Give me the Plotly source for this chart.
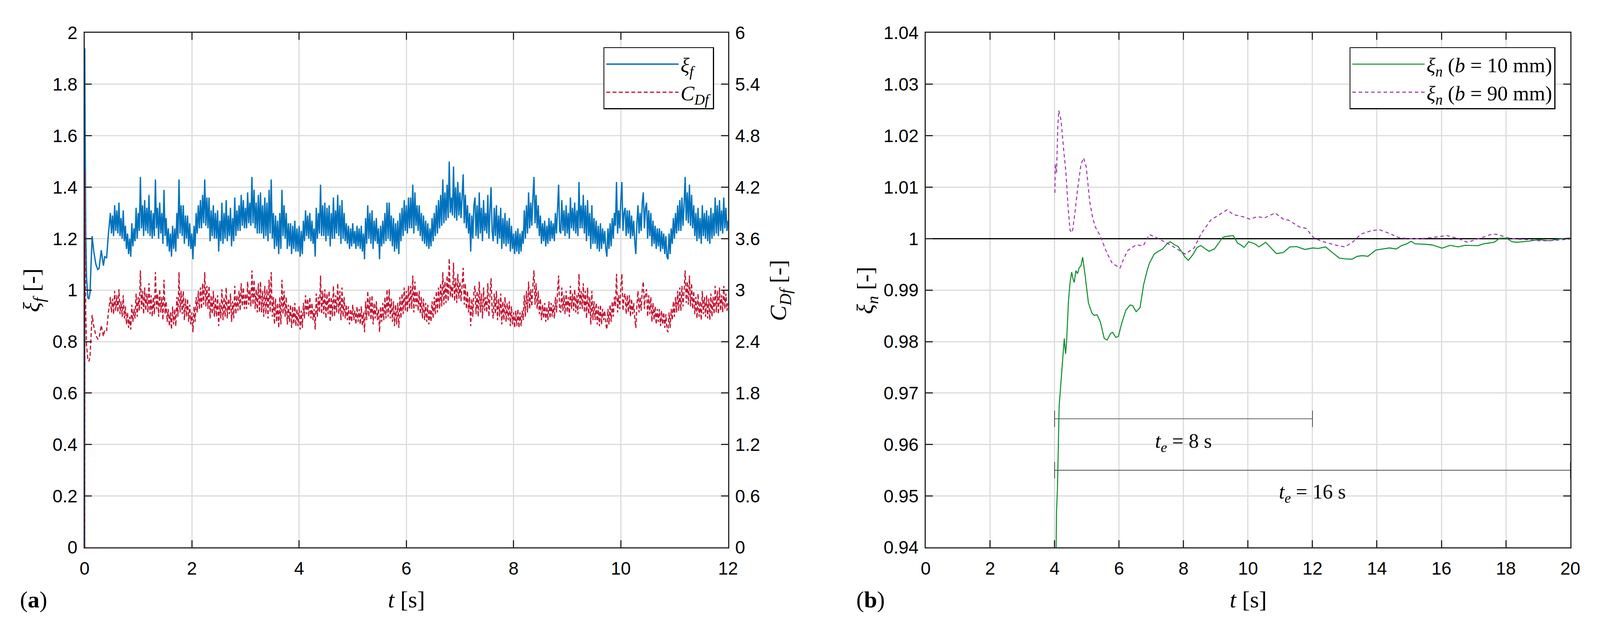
import numpy as np
import plotly.graph_objects as go

SANS = "Liberation Sans"
SERIF = "Liberation Serif"
AX = "#262626"
GRID = "#dcdcdc"

# ---- (a) xi_f and C_Df vs time ----
# start-up transient
t_start = [0, 0.003, 0.008, 0.02, 0.035, 0.06, 0.08, 0.10, 0.12, 0.14,
           0.17, 0.21, 0.245, 0.27, 0.31, 0.35, 0.375, 0.41, 0.44]
xi_start = [0, 1.94, 1.70, 1.23, 1.05, 0.97, 0.965, 0.99, 1.10, 1.21,
            1.15, 1.10, 1.08, 1.085, 1.155, 1.095, 1.13, 1.125, 1.21]
cdf_start = [0, 4.40, 3.80, 2.76, 2.36, 2.19, 2.17, 2.22, 2.47, 2.71,
             2.58, 2.47, 2.43, 2.44, 2.59, 2.46, 2.54, 2.53, 2.72]

# fluctuating part, read every 0.02 s from 0.48 s to 12 s (one row = 0.4 s)
t_band = np.round(np.arange(0.48, 12.0001, 0.02), 2)
xi_band = [
    1.30, 1.22, 1.29, 1.21, 1.33, 1.23, 1.31, 1.22, 1.34, 1.21, 1.28, 1.20, 1.31, 1.19, 1.25, 1.16, 1.22, 1.14, 1.20, 1.13,
    1.26, 1.17, 1.24, 1.19, 1.32, 1.20, 1.30, 1.23, 1.44, 1.24, 1.33, 1.21, 1.35, 1.23, 1.32, 1.22, 1.37, 1.21, 1.31, 1.20,
    1.30, 1.21, 1.43, 1.24, 1.32, 1.20, 1.34, 1.22, 1.30, 1.18, 1.39, 1.21, 1.28, 1.17, 1.24, 1.15, 1.22, 1.13, 1.25, 1.16,
    1.24, 1.15, 1.30, 1.20, 1.43, 1.22, 1.33, 1.21, 1.33, 1.18, 1.29, 1.20, 1.29, 1.17, 1.26, 1.16, 1.22, 1.12, 1.25, 1.17,
    1.30, 1.22, 1.33, 1.24, 1.35, 1.24, 1.37, 1.26, 1.43, 1.25, 1.36, 1.24, 1.36, 1.19, 1.31, 1.21, 1.33, 1.20, 1.30, 1.20,
    1.31, 1.15, 1.27, 1.19, 1.34, 1.18, 1.30, 1.20, 1.35, 1.19, 1.29, 1.21, 1.32, 1.17, 1.28, 1.19, 1.36, 1.21, 1.31, 1.23,
    1.33, 1.23, 1.37, 1.25, 1.35, 1.24, 1.32, 1.24, 1.38, 1.26, 1.34, 1.25, 1.44, 1.26, 1.39, 1.24, 1.34, 1.22, 1.37, 1.22,
    1.38, 1.22, 1.33, 1.20, 1.36, 1.21, 1.34, 1.19, 1.39, 1.22, 1.43, 1.20, 1.30, 1.16, 1.29, 1.17, 1.27, 1.14, 1.30, 1.16,
    1.39, 1.21, 1.33, 1.20, 1.30, 1.16, 1.26, 1.17, 1.26, 1.14, 1.25, 1.16, 1.27, 1.15, 1.24, 1.15, 1.25, 1.13, 1.23, 1.14,
    1.27, 1.19, 1.31, 1.21, 1.29, 1.20, 1.30, 1.19, 1.27, 1.18, 1.24, 1.13, 1.32, 1.20, 1.30, 1.22, 1.41, 1.21, 1.33, 1.21,
    1.34, 1.19, 1.32, 1.21, 1.33, 1.17, 1.30, 1.20, 1.36, 1.20, 1.31, 1.22, 1.37, 1.21, 1.33, 1.18, 1.35, 1.20, 1.30, 1.19,
    1.26, 1.18, 1.25, 1.16, 1.24, 1.17, 1.26, 1.18, 1.23, 1.16, 1.25, 1.17, 1.24, 1.16, 1.25, 1.15, 1.22, 1.12, 1.28, 1.18,
    1.33, 1.20, 1.30, 1.18, 1.31, 1.16, 1.27, 1.19, 1.28, 1.18, 1.24, 1.12, 1.25, 1.17, 1.27, 1.18, 1.30, 1.19, 1.34, 1.20,
    1.34, 1.19, 1.29, 1.17, 1.28, 1.15, 1.26, 1.16, 1.27, 1.14, 1.30, 1.19, 1.32, 1.21, 1.35, 1.23, 1.33, 1.22, 1.36, 1.24,
    1.36, 1.24, 1.41, 1.22, 1.38, 1.25, 1.33, 1.23, 1.33, 1.21, 1.30, 1.19, 1.29, 1.18, 1.27, 1.17, 1.26, 1.16, 1.24, 1.17,
    1.28, 1.19, 1.30, 1.21, 1.33, 1.22, 1.35, 1.24, 1.37, 1.25, 1.43, 1.26, 1.38, 1.27, 1.41, 1.28, 1.50, 1.30, 1.36, 1.29,
    1.48, 1.28, 1.40, 1.27, 1.42, 1.29, 1.38, 1.28, 1.36, 1.45, 1.26, 1.37, 1.24, 1.33, 1.22, 1.30, 1.15, 1.29, 1.20, 1.33,
    1.36, 1.21, 1.33, 1.20, 1.38, 1.22, 1.32, 1.19, 1.35, 1.23, 1.30, 1.22, 1.37, 1.20, 1.31, 1.40, 1.23, 1.19, 1.32, 1.21,
    1.33, 1.18, 1.29, 1.20, 1.32, 1.16, 1.28, 1.18, 1.30, 1.17, 1.27, 1.18, 1.28, 1.15, 1.25, 1.16, 1.22, 1.14, 1.23, 1.15,
    1.24, 1.14, 1.22, 1.15, 1.23, 1.18, 1.31, 1.20, 1.33, 1.22, 1.38, 1.24, 1.34, 1.25, 1.36, 1.44, 1.26, 1.37, 1.24, 1.33,
    1.21, 1.29, 1.18, 1.26, 1.19, 1.27, 1.17, 1.25, 1.18, 1.28, 1.19, 1.27, 1.20, 1.26, 1.19, 1.30, 1.22, 1.33, 1.41, 1.23,
    1.22, 1.35, 1.23, 1.31, 1.21, 1.33, 1.22, 1.30, 1.20, 1.36, 1.24, 1.32, 1.23, 1.34, 1.22, 1.31, 1.21, 1.42, 1.24, 1.33,
    1.24, 1.37, 1.22, 1.33, 1.19, 1.35, 1.21, 1.30, 1.16, 1.33, 1.18, 1.28, 1.18, 1.27, 1.16, 1.25, 1.15, 1.26, 1.16, 1.24,
    1.18, 1.23, 1.16, 1.13, 1.24, 1.16, 1.26, 1.17, 1.28, 1.20, 1.30, 1.25, 1.42, 1.22, 1.31, 1.24, 1.35, 1.42, 1.23, 1.30,
    1.32, 1.21, 1.31, 1.22, 1.31, 1.20, 1.29, 1.21, 1.27, 1.19, 1.14, 1.26, 1.33, 1.22, 1.30, 1.23, 1.34, 1.38, 1.24, 1.32,
    1.34, 1.20, 1.31, 1.21, 1.30, 1.17, 1.27, 1.18, 1.25, 1.16, 1.24, 1.17, 1.24, 1.15, 1.23, 1.16, 1.22, 1.14, 1.21, 1.13,
    1.12, 1.22, 1.14, 1.24, 1.18, 1.28, 1.20, 1.30, 1.22, 1.33, 1.23, 1.35, 1.23, 1.36, 1.25, 1.33, 1.44, 1.27, 1.38, 1.26,
    1.41, 1.25, 1.37, 1.24, 1.33, 1.21, 1.30, 1.19, 1.32, 1.20, 1.28, 1.18, 1.33, 1.21, 1.30, 1.20, 1.31, 1.19, 1.29, 1.18,
    1.32, 1.20, 1.30, 1.21, 1.36, 1.22, 1.33, 1.21, 1.35, 1.23, 1.31, 1.22, 1.36, 1.24, 1.32, 1.23, 1.27,
]
cdf_band = [
    2.92, 2.74, 2.90, 2.72, 2.99, 2.76, 2.94, 2.74, 3.01, 2.72, 2.87, 2.69, 2.94, 2.67, 2.81, 2.60, 2.74, 2.56, 2.69, 2.54,
    2.83, 2.63, 2.78, 2.67, 2.96, 2.69, 2.92, 2.76, 3.23, 2.78, 2.99, 2.72, 3.03, 2.76, 2.96, 2.74, 3.08, 2.72, 2.94, 2.69,
    2.92, 2.72, 3.21, 2.78, 2.96, 2.69, 3.01, 2.74, 2.92, 2.65, 3.12, 2.72, 2.87, 2.63, 2.78, 2.58, 2.74, 2.54, 2.81, 2.60,
    2.78, 2.58, 2.92, 2.69, 3.21, 2.74, 2.99, 2.72, 2.99, 2.65, 2.90, 2.69, 2.90, 2.63, 2.83, 2.60, 2.74, 2.51, 2.81, 2.63,
    2.92, 2.74, 2.99, 2.78, 3.03, 2.78, 3.08, 2.83, 3.21, 2.81, 3.05, 2.78, 3.05, 2.67, 2.94, 2.72, 2.99, 2.69, 2.92, 2.69,
    2.94, 2.58, 2.85, 2.67, 3.01, 2.65, 2.92, 2.69, 3.03, 2.67, 2.90, 2.72, 2.96, 2.63, 2.87, 2.67, 3.05, 2.72, 2.94, 2.76,
    2.99, 2.76, 3.08, 2.81, 3.03, 2.78, 2.96, 2.78, 3.10, 2.83, 3.01, 2.81, 3.23, 2.83, 3.12, 2.78, 3.01, 2.74, 3.08, 2.74,
    3.10, 2.74, 2.99, 2.69, 3.05, 2.72, 3.01, 2.67, 3.12, 2.74, 3.21, 2.69, 2.92, 2.60, 2.90, 2.63, 2.85, 2.56, 2.92, 2.60,
    3.12, 2.72, 2.99, 2.69, 2.92, 2.60, 2.83, 2.63, 2.83, 2.56, 2.81, 2.60, 2.85, 2.58, 2.78, 2.58, 2.81, 2.54, 2.76, 2.56,
    2.85, 2.67, 2.94, 2.72, 2.90, 2.69, 2.92, 2.67, 2.85, 2.65, 2.78, 2.54, 2.96, 2.69, 2.92, 2.74, 3.17, 2.72, 2.99, 2.72,
    3.01, 2.67, 2.96, 2.72, 2.99, 2.63, 2.92, 2.69, 3.05, 2.69, 2.94, 2.74, 3.08, 2.72, 2.99, 2.65, 3.03, 2.69, 2.92, 2.67,
    2.83, 2.65, 2.81, 2.60, 2.78, 2.63, 2.83, 2.65, 2.76, 2.60, 2.81, 2.63, 2.78, 2.60, 2.81, 2.58, 2.74, 2.51, 2.87, 2.65,
    2.99, 2.69, 2.92, 2.65, 2.94, 2.60, 2.85, 2.67, 2.87, 2.65, 2.78, 2.51, 2.81, 2.63, 2.85, 2.65, 2.92, 2.67, 3.01, 2.69,
    3.01, 2.67, 2.90, 2.63, 2.87, 2.58, 2.83, 2.60, 2.85, 2.56, 2.92, 2.67, 2.96, 2.72, 3.03, 2.76, 2.99, 2.74, 3.05, 2.78,
    3.05, 2.78, 3.17, 2.74, 3.10, 2.81, 2.99, 2.76, 2.99, 2.72, 2.92, 2.67, 2.90, 2.65, 2.85, 2.63, 2.83, 2.60, 2.78, 2.63,
    2.87, 2.67, 2.92, 2.72, 2.99, 2.74, 3.03, 2.78, 3.08, 2.81, 3.21, 2.83, 3.10, 2.85, 3.17, 2.87, 3.37, 2.92, 3.05, 2.90,
    3.32, 2.87, 3.14, 2.85, 3.19, 2.90, 3.10, 2.87, 3.05, 3.26, 2.83, 3.08, 2.78, 2.99, 2.74, 2.92, 2.58, 2.90, 2.69, 2.99,
    3.05, 2.72, 2.99, 2.69, 3.10, 2.74, 2.96, 2.67, 3.03, 2.76, 2.92, 2.74, 3.08, 2.69, 2.94, 3.14, 2.76, 2.67, 2.96, 2.72,
    2.99, 2.65, 2.90, 2.69, 2.96, 2.60, 2.87, 2.65, 2.92, 2.63, 2.85, 2.65, 2.87, 2.58, 2.81, 2.60, 2.74, 2.56, 2.76, 2.58,
    2.78, 2.56, 2.74, 2.58, 2.76, 2.65, 2.94, 2.69, 2.99, 2.74, 3.10, 2.78, 3.01, 2.81, 3.05, 3.23, 2.83, 3.08, 2.78, 2.99,
    2.72, 2.90, 2.65, 2.83, 2.67, 2.85, 2.63, 2.81, 2.65, 2.87, 2.67, 2.85, 2.69, 2.83, 2.67, 2.92, 2.74, 2.99, 3.17, 2.76,
    2.74, 3.03, 2.76, 2.94, 2.72, 2.99, 2.74, 2.92, 2.69, 3.05, 2.78, 2.96, 2.76, 3.01, 2.74, 2.94, 2.72, 3.19, 2.78, 2.99,
    2.78, 3.08, 2.74, 2.99, 2.67, 3.03, 2.72, 2.92, 2.60, 2.99, 2.65, 2.87, 2.65, 2.85, 2.60, 2.81, 2.58, 2.83, 2.60, 2.78,
    2.65, 2.76, 2.60, 2.54, 2.78, 2.60, 2.83, 2.63, 2.87, 2.69, 2.92, 2.81, 3.19, 2.74, 2.94, 2.78, 3.03, 3.19, 2.76, 2.92,
    2.96, 2.72, 2.94, 2.74, 2.94, 2.69, 2.90, 2.72, 2.85, 2.67, 2.56, 2.83, 2.99, 2.74, 2.92, 2.76, 3.01, 3.10, 2.78, 2.96,
    3.01, 2.69, 2.94, 2.72, 2.92, 2.63, 2.85, 2.65, 2.81, 2.60, 2.78, 2.63, 2.78, 2.58, 2.76, 2.60, 2.74, 2.56, 2.72, 2.54,
    2.51, 2.74, 2.56, 2.78, 2.65, 2.87, 2.69, 2.92, 2.74, 2.99, 2.76, 3.03, 2.76, 3.05, 2.81, 2.99, 3.23, 2.85, 3.10, 2.83,
    3.17, 2.81, 3.08, 2.78, 2.99, 2.72, 2.92, 2.67, 2.96, 2.69, 2.87, 2.65, 2.99, 2.72, 2.92, 2.69, 2.94, 2.67, 2.90, 2.65,
    2.96, 2.69, 2.92, 2.72, 3.05, 2.74, 2.99, 2.72, 3.03, 2.76, 2.94, 2.74, 3.05, 2.78, 2.96, 2.76, 2.85,
]
assert len(t_band) == len(xi_band) == len(cdf_band)

t_a = list(t_start) + list(t_band)
xi_f = xi_start + xi_band
c_df = cdf_start + cdf_band

# ---- (b) normalised xi_n for two widths ----
t_b10 = [4.03, 4.045, 4.06, 4.09, 4.12, 4.14, 4.18, 4.23, 4.28, 4.30,
         4.34, 4.37, 4.43, 4.48, 4.53, 4.57, 4.61, 4.66, 4.71, 4.76,
         4.82, 4.87, 4.94, 5.05, 5.16, 5.23, 5.32, 5.42, 5.54, 5.63,
         5.74, 5.80, 5.90, 5.98, 6.07, 6.21, 6.34, 6.42, 6.53, 6.65,
         6.76, 6.87, 6.94, 7.09, 7.18, 7.35, 7.50, 7.59, 7.72, 7.83,
         7.98, 8.04, 8.15, 8.29, 8.42, 8.54, 8.68, 8.79, 8.96, 9.09,
         9.21, 9.29, 9.54, 9.68, 9.75, 9.88, 10.02, 10.21, 10.34, 10.55,
         10.71, 10.88, 11.09, 11.30, 11.51, 11.76, 12.01, 12.18, 12.41, 12.59,
         12.84, 13.01, 13.22, 13.39, 13.55, 13.72, 13.97, 14.18, 14.39, 14.60,
         14.76, 14.93, 15.06, 15.18, 15.52, 15.72, 15.85, 16.02, 16.27, 16.52,
         16.73, 16.93, 17.14, 17.31, 17.48, 17.64, 17.81, 18.02, 18.19, 18.35,
         18.69, 19.02, 19.36, 19.61, 19.94, 20.0]
xi_b10 = [0.930, 0.940, 0.947, 0.9518, 0.9604, 0.9673, 0.9707, 0.9750, 0.9793, 0.9806,
          0.9776, 0.9797, 0.9879, 0.9915, 0.9935, 0.9922, 0.9915, 0.9938, 0.9932, 0.9943,
          0.9948, 0.9964, 0.9932, 0.9875, 0.9855, 0.9851, 0.9852, 0.9838, 0.9806, 0.9803,
          0.9816, 0.9818, 0.9808, 0.9810, 0.9833, 0.9861, 0.9871, 0.9870, 0.9858, 0.9866,
          0.9910, 0.9938, 0.9952, 0.9970, 0.9974, 0.9980, 0.9991, 0.9994, 0.9988, 0.9985,
          0.9971, 0.99645, 0.9958, 0.9969, 0.9983, 0.99865, 0.9980, 0.99755, 0.9980, 0.9991,
          1.0002, 1.0004, 1.0006, 0.9991, 0.9989, 0.9983, 0.9994, 0.9990, 0.9984, 0.9993,
          0.9982, 0.9971, 0.9973, 0.9984, 0.99846, 0.9979, 0.9982, 0.9981, 0.9984, 0.99743,
          0.9962, 0.99608, 0.9960, 0.99657, 0.9967, 0.99657, 0.9978, 0.9980, 0.9982, 0.9980,
          0.99865, 0.9990, 0.9995, 0.9990, 0.9989, 0.99877, 0.99853, 0.99816, 0.9987, 0.9984,
          0.9987, 0.99865, 0.99865, 0.9990, 0.99914, 0.9993, 1.0001, 1.0001, 0.9994, 0.9993,
          0.9995, 0.9998, 0.9996, 0.9999, 1.0001, 1.0001]

t_b90 = [4.01, 4.02, 4.06, 4.10, 4.13, 4.20, 4.27, 4.35, 4.42, 4.48,
         4.55, 4.63, 4.72, 4.82, 4.90, 4.98, 5.09, 5.18, 5.27, 5.42,
         5.61, 5.79, 6.03, 6.15, 6.27, 6.53, 6.75, 6.94, 7.16, 7.50,
         7.75, 8.05, 8.33, 8.54, 8.84, 9.17, 9.35, 9.54, 9.88, 10.05,
         10.30, 10.50, 10.84, 11.09, 11.26, 11.59, 11.80, 12.05, 12.34, 12.68,
         13.01, 13.26, 13.51, 13.85, 14.10, 14.35, 14.68, 15.01, 15.35, 15.68,
         16.18, 16.52, 16.81, 17.10, 17.35, 17.56, 17.77, 18.02, 18.35, 18.69,
         19.02, 19.36, 19.69, 19.94, 20.0]
xi_b90 = [1.0089, 1.0145, 1.0128, 1.0220, 1.0249, 1.0230, 1.0180, 1.0129, 1.0060, 1.0016,
          1.0012, 1.0050, 1.0100, 1.0145, 1.0157, 1.0140, 1.0072, 1.0040, 1.0022, 1.0005,
          0.9974, 0.9952, 0.9943, 0.9962, 0.9977, 0.9988, 0.9986, 1.0008, 1.0002, 0.9991,
          0.9982, 0.9970, 0.9982, 1.0009, 1.0036, 1.0049, 1.0056, 1.0047, 1.0042, 1.0038,
          1.0043, 1.0040, 1.0050, 1.0038, 1.0036, 1.0023, 1.0020, 1.0001, 0.9994, 0.9988,
          0.9984, 0.9994, 1.0009, 1.0016, 1.0017, 1.0011, 1.0002, 1.0000, 1.0000, 1.0002,
          1.0006, 1.0000, 0.9993, 0.9999, 1.0004, 1.0009, 1.0008, 1.0002, 0.9999, 0.9998,
          0.9996, 0.9996, 0.9998, 0.9999, 1.0000]

ref_level = 1.0
# averaging-window brackets
te_start = [4, 4]
te_end = [12, 20]
te_level = [0.965, 0.955]
te_label_x = [8, 12]
te_label_y = [0.9604, 0.9505]
te_labels = ["<i>t</i><sub><i>e</i></sub> = 8 s", "<i>t</i><sub><i>e</i></sub> = 16 s"]
te_tick = 0.0016

ticks_t_a = list(range(0, 13, 2))
ticks_xi = [0, 0.2, 0.4, 0.6, 0.8, 1, 1.2, 1.4, 1.6, 1.8, 2]
ticks_xi_txt = ["0", "0.2", "0.4", "0.6", "0.8", "1", "1.2", "1.4", "1.6", "1.8", "2"]
ticks_cd = [0, 0.6, 1.2, 1.8, 2.4, 3, 3.6, 4.2, 4.8, 5.4, 6]
ticks_cd_txt = ["0", "0.6", "1.2", "1.8", "2.4", "3", "3.6", "4.2", "4.8", "5.4", "6"]
ticks_t_b = list(range(0, 21, 2))
ticks_xn = [0.94, 0.95, 0.96, 0.97, 0.98, 0.99, 1.0, 1.01, 1.02, 1.03, 1.04]
ticks_xn_txt = ["0.94", "0.95", "0.96", "0.97", "0.98", "0.99", "1", "1.01", "1.02", "1.03", "1.04"]

fig = go.Figure()

fig.add_trace(go.Scatter(x=t_a, y=xi_f, mode="lines", name="<i>ξ</i><sub><i>f</i></sub>",
                         line=dict(color="#0072BD", width=3.4), xaxis="x", yaxis="y",
                         legend="legend"))
fig.add_trace(go.Scatter(x=t_a, y=c_df, mode="lines", name="<i>C</i><sub><i>Df</i></sub>",
                         line=dict(color="#C4102E", width=3, dash="10px,6px"),
                         xaxis="x", yaxis="y2", legend="legend"))

fig.add_trace(go.Scatter(x=[0, 20], y=[ref_level, ref_level], mode="lines", showlegend=False,
                         line=dict(color="black", width=3), xaxis="x2", yaxis="y3"))
for i in range(len(te_start)):
    fig.add_trace(go.Scatter(x=[te_start[i], te_end[i]], y=[te_level[i], te_level[i]],
                             mode="lines", showlegend=False, line=dict(color="#333333", width=1.6),
                             xaxis="x2", yaxis="y3"))
    for xe in (te_start[i], te_end[i]):
        fig.add_trace(go.Scatter(x=[xe, xe], y=[te_level[i] - te_tick, te_level[i] + te_tick],
                                 mode="lines", showlegend=False,
                                 line=dict(color="#333333", width=1.6), xaxis="x2", yaxis="y3"))

fig.add_trace(go.Scatter(x=t_b10, y=xi_b10, mode="lines",
                         name="<i>ξ</i><sub><i>n</i></sub> (<i>b</i> = 10 mm)",
                         line=dict(color="#0a8f2a", width=2.6), xaxis="x2", yaxis="y3",
                         legend="legend2"))
fig.add_trace(go.Scatter(x=t_b90, y=xi_b90, mode="lines",
                         name="<i>ξ</i><sub><i>n</i></sub> (<i>b</i> = 90 mm)",
                         line=dict(color="#a034b0", width=2.6, dash="9px,7px"),
                         xaxis="x2", yaxis="y3", legend="legend2"))

common = dict(showline=True, linecolor=AX, linewidth=3, ticks="inside", ticklen=18,
              tickwidth=3, tickcolor=AX, zeroline=False,
              tickfont=dict(family=SANS, size=46, color="black"))
dom_y = [0.1217, 0.9629]
legend_font = dict(family=SERIF, size=53, color="black")

# size comes from the browser window (the div is 100vw x 100vh)
fig.update_layout(
    margin=dict(l=0, r=0, t=0, b=0),
    paper_bgcolor="white", plot_bgcolor="white",
    xaxis=dict(domain=[0.0502, 0.4562], range=[0, 12], anchor="y", mirror="ticks",
               tickvals=ticks_t_a, showgrid=True, gridcolor=GRID, gridwidth=2.5,
               ticklabelstandoff=12, **common),
    yaxis=dict(domain=dom_y, range=[0, 2], anchor="x", tickvals=ticks_xi, ticktext=ticks_xi_txt,
               showgrid=True, gridcolor=GRID, gridwidth=2.5, ticklabelstandoff=6, **common),
    yaxis2=dict(range=[0, 6], overlaying="y", side="right", anchor="x", tickvals=ticks_cd,
                ticktext=ticks_cd_txt, showgrid=False, ticklabelstandoff=6, **common),
    xaxis2=dict(domain=[0.5809, 0.9877], range=[0, 20], anchor="y3", mirror="ticks",
                tickvals=ticks_t_b, showgrid=True, gridcolor=GRID, gridwidth=2.5,
                ticklabelstandoff=12, **common),
    yaxis3=dict(domain=dom_y, range=[0.94, 1.04], anchor="x2", mirror="ticks",
                tickvals=ticks_xn, ticktext=ticks_xn_txt, showgrid=True, gridcolor=GRID,
                gridwidth=2.5, ticklabelstandoff=6, **common),
    legend=dict(x=0.4473, y=0.9395, xanchor="right", yanchor="top", bgcolor="white",
                bordercolor="black", borderwidth=2.5, itemwidth=185, font=legend_font),
    legend2=dict(x=0.9782, y=0.9395, xanchor="right", yanchor="top", bgcolor="white",
                 bordercolor="black", borderwidth=2.5, itemwidth=185, font=legend_font),
)

title_font = dict(family=SERIF, size=60, color="black")
notes = [
    dict(x=0.2532, y=0.0364, text="<i>t</i> [s]", textangle=0),
    dict(x=0.7845, y=0.0364, text="<i>t</i> [s]", textangle=0),
    dict(x=0.0180, y=0.0364, text="(<b>a</b>)", textangle=0),
    dict(x=0.5460, y=0.0364, text="(<b>b</b>)", textangle=0),
    dict(x=0.0180, y=0.542, text="<i>ξ</i><sub><i>f</i></sub> [-]", textangle=-90),
    dict(x=0.4890, y=0.542, text="<i>C</i><sub><i>Df</i></sub> [-]", textangle=-90),
    dict(x=0.5440, y=0.542, text="<i>ξ</i><sub><i>n</i></sub> [-]", textangle=-90),
]
for n in notes:
    fig.add_annotation(xref="paper", yref="paper", showarrow=False, font=title_font,
                       xanchor="center", yanchor="middle", **n)

for i in range(len(te_labels)):
    fig.add_annotation(x=te_label_x[i], y=te_label_y[i], xref="x2", yref="y3", text=te_labels[i],
                       showarrow=False, font=dict(family=SERIF, size=52, color="black"),
                       xanchor="center", yanchor="middle")

fig.write_html("out.html", default_width="100vw", default_height="100vh",
               config={"displayModeBar": False},
               post_script="document.body.style.margin='0';document.body.style.overflow='hidden';")
